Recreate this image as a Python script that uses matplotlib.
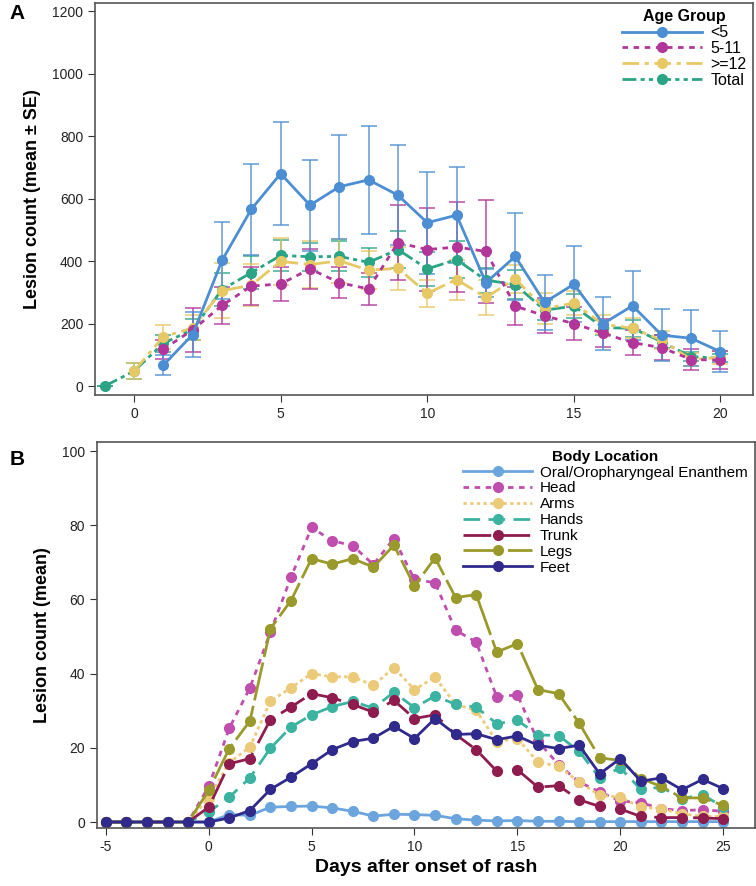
import numpy as np
import matplotlib
matplotlib.use("Agg")
import matplotlib.pyplot as plt

plt.rcParams['font.family'] = ['Liberation Sans', 'DejaVu Sans']
plt.rcParams['axes.unicode_minus'] = False

# ---- panel A: lesion count by age group (mean and SE) ----
age_groups = ['<5', '5-11', '>=12', 'Total']

lt5_days = list(range(1, 21))
lt5_mean = [67, 165, 402, 566, 680, 579, 638, 660, 611, 523, 547, 331, 415, 268, 326, 200, 257, 163, 153, 110]
lt5_se = [32, 72, 124, 145, 166, 146, 166, 173, 160, 163, 153, 45, 140, 88, 122, 86, 111, 83, 90, 66]

m511_days = list(range(1, 21))
m511_mean = [118, 180, 258, 320, 327, 375, 331, 311, 459, 437, 445, 431, 256, 225, 200, 169, 139, 123, 85, 83]
m511_se = [30, 70, 58, 60, 55, 64, 50, 50, 120, 133, 145, 166, 62, 56, 54, 45, 41, 40, 33, 28]

m12_days = list(range(0, 21))
m12_mean = [48, 158, 186, 305, 323, 399, 389, 401, 371, 377, 297, 341, 284, 343, 249, 265, 198, 185, 147, 85, 92]
m12_se = [25, 38, 40, 88, 68, 76, 74, 70, 60, 68, 43, 64, 55, 45, 50, 38, 30, 32, 28, 20, 20]

tot_days = list(range(-1, 21))
tot_mean = [0, 48, 137, 181, 309, 363, 418, 414, 415, 396, 437, 375, 405, 339, 325, 243, 256, 187, 185, 142, 94, 89]
tot_se = [0, 26, 28, 33, 52, 52, 50, 45, 48, 46, 60, 55, 58, 40, 45, 32, 38, 25, 28, 20, 15, 13]

# ---- panel B: mean lesion count by body location ----
days_b = list(range(-5, 26))
locations = ['Oral/Oropharyngeal Enanthem', 'Head', 'Arms', 'Hands', 'Trunk', 'Legs', 'Feet']
oral = [0, 0, 0, 0, 0, 0, 2.0, 1.8, 4.0, 4.2, 4.3, 3.8, 2.9, 1.6, 2.1, 2.0, 1.8, 0.9, 0.5, 0.3,
        0.4, 0.2, 0.2, 0.1, 0.1, 0.1, 0.1, 0.1, 0.1, 0.1, 0.1]
head = [0, 0, 0, 0, 0, 9.6, 25.3, 36.1, 51.2, 66.0, 79.4, 75.8, 74.5, 69.4, 76.4, 65.4, 64.5,
        51.7, 48.5, 33.7, 34.3, 21.8, 15.5, 10.8, 8.1, 5.7, 5.2, 3.6, 3.1, 3.3, 2.9]
arms = [0, 0, 0, 0, 0, 6.5, 16.0, 20.2, 32.6, 36.2, 40.0, 39.1, 39.2, 36.8, 41.6, 35.7, 39.0,
        31.7, 30.1, 21.7, 22.5, 16.2, 15.0, 10.8, 7.2, 6.7, 4.0, 3.6, 2.2, 1.5, 1.5]
hands = [0, 0, 0, 0, 0, 2.7, 6.7, 11.9, 19.9, 25.6, 28.9, 31.1, 32.5, 30.7, 35.0, 30.8, 34.0,
         31.7, 31.0, 26.5, 27.4, 23.5, 23.3, 19.1, 11.9, 14.6, 8.8, 9.4, 6.3, 7.4, 4.0]
trunk = [0, 0, 0, 0, 0, 4.0, 15.7, 17.1, 27.6, 31.0, 34.6, 33.5, 31.7, 29.6, 32.8, 27.9, 28.9,
         23.6, 19.5, 13.7, 14.1, 9.4, 9.8, 6.0, 4.2, 3.5, 1.5, 1.2, 1.2, 1.1, 0.9]
legs = [0, 0, 0, 0, 0, 8.5, 19.8, 27.2, 52.1, 59.7, 71.0, 69.5, 71.0, 68.7, 74.6, 63.6, 71.2,
        60.5, 61.3, 45.8, 48.1, 35.7, 34.6, 26.7, 17.3, 16.6, 11.7, 9.6, 6.5, 6.5, 4.5]
feet = [0, 0, 0, 0, 0, 0, 1.1, 3.1, 8.8, 12.1, 15.7, 19.5, 21.7, 22.6, 25.8, 22.5, 27.9,
        23.6, 23.8, 22.2, 23.2, 20.7, 19.8, 20.7, 13.0, 17.1, 11.0, 11.9, 8.7, 11.5, 9.0]

fig = plt.figure(figsize=(7.56, 8.86), dpi=100)
axA = fig.add_axes([0.1257, 0.554, 0.870, 0.4426])
axB = fig.add_axes([0.128, 0.0655, 0.8707, 0.4355])

# panel A
styleA = [
    (lt5_days, lt5_mean, lt5_se, '#4C8ED3', '-', 8),
    (m511_days, m511_mean, m511_se, '#B2359A', (0, (2, 2)), 7),
    (m12_days, m12_mean, m12_se, '#E6C864', (0, (6, 2, 1.5, 2)), 6),
    (tot_days, tot_mean, tot_se, '#2BA485', (0, (5, 1.5, 1.5, 1.5, 1.5, 1.5)), 5),
]
for (d, m, se, col, ls, z), name in zip(styleA, age_groups):
    d = np.array(d); m = np.array(m); se = np.array(se)
    axA.errorbar(d, m, yerr=se, fmt='none', ecolor=col, elinewidth=1.4,
                 capsize=6, capthick=1.4, alpha=0.7, zorder=z - 4)
    axA.plot(d, m, color=col, ls=ls, lw=2, marker='o', ms=7, label=name, zorder=z)

axA.set_xlim(-1.33, 21.1)
axA.set_ylim(-29, 1226)
axA.set_xticks([0, 5, 10, 15, 20])
axA.set_yticks(range(0, 1201, 200))
axA.set_ylabel('Lesion count (mean ± SE)', fontsize=13, fontweight='bold', labelpad=8)
legA = axA.legend(title='Age Group', loc='upper right', frameon=False, fontsize=11.5,
                  handlelength=5, borderaxespad=0.1, labelspacing=0.05, handletextpad=0.5,
                  borderpad=0.3)
legA.get_title().set_fontweight('bold')
legA.get_title().set_fontsize(11.5)

# panel B
styleB = [
    ('#6CA5DE', '-'),
    ('#C04EAE', (0, (2, 2))),
    ('#EBCB7A', (0, (1.2, 1.2))),
    ('#3BB3A0', (0, (6, 3))),
    ('#8E1C4F', (0, (10, 4))),
    ('#9A9A2C', (0, (14, 2))),
    ('#2F2A8C', '-'),
]
series_b = [oral, head, arms, hands, trunk, legs, feet]
for vals, (col, ls), name in zip(series_b, styleB, locations):
    axB.plot(days_b, vals, color=col, ls=ls, lw=2, marker='o', ms=7, label=name)

axB.set_xlim(-5.44, 26.55)
axB.set_ylim(-1.6, 102.4)
axB.set_xticks(range(-5, 26, 5))
axB.set_yticks(range(0, 101, 20))
axB.set_ylabel('Lesion count (mean)', fontsize=13, fontweight='bold', labelpad=8)
axB.set_xlabel('Days after onset of rash', fontsize=14, fontweight='bold', labelpad=4)
legB = axB.legend(title='Body Location', loc='upper right', frameon=False, fontsize=11,
                  handlelength=4.5, borderaxespad=0.2, labelspacing=0.12, handletextpad=0.5,
                  borderpad=0.3)
legB.get_title().set_fontweight('bold')
legB.get_title().set_fontsize(11)

for ax in (axA, axB):
    for s in ax.spines.values():
        s.set_color('#555555')
        s.set_linewidth(1.2)
    ax.tick_params(labelsize=10, length=5, color='#333333', labelcolor='#222222')

fig.text(0.013, 0.978, 'A', fontsize=15, fontweight='bold')
fig.text(0.013, 0.475, 'B', fontsize=15, fontweight='bold')

fig.savefig('out.png', dpi=100)
